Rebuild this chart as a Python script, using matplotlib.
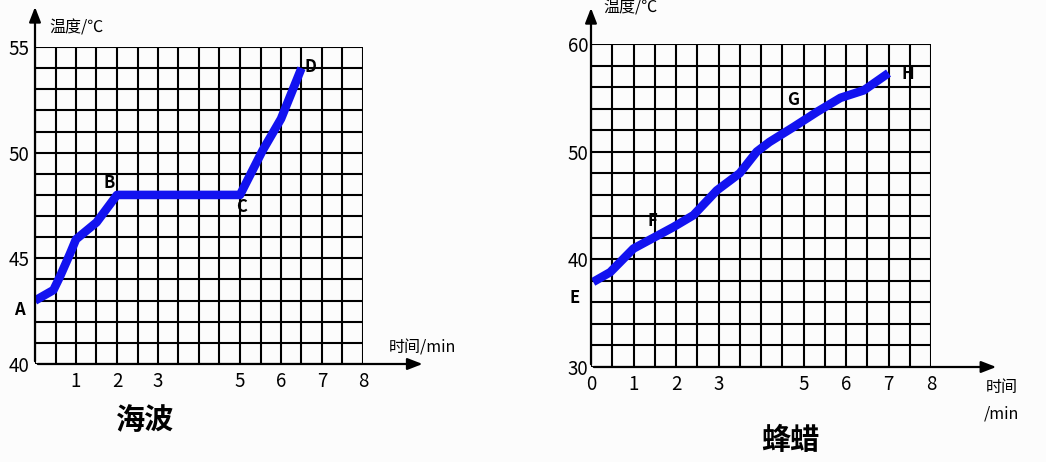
import matplotlib.pyplot as plt
import numpy as np

plt.rcParams['font.family'] = ['Noto Sans CJK SC', 'DejaVu Sans']

# 海波 (hypo) heating curve
hypo_t = [0, 0.45, 0.6, 0.85, 1.0, 1.25, 1.5, 2.0, 5.0, 5.55, 6.0, 6.5]
hypo_T = [43.0, 43.5, 44.1, 45.2, 45.9, 46.3, 46.7, 48.0, 48.0, 50.1, 51.6, 54.0]
hypo_labels = ['A', 'B', 'C', 'D']
hypo_label_pts = [(0, 43.0), (2.0, 48.0), (5.0, 48.0), (6.5, 54.0)]

# 蜂蜡 (beeswax) heating curve
wax_t = [0.05, 0.45, 1.0, 1.47, 1.94, 2.41, 2.96, 3.5, 3.9, 4.2, 4.77, 5.32, 5.87, 6.42, 7.0]
wax_T = [37.9, 38.8, 41.0, 42.0, 43.0, 44.1, 46.4, 48.0, 50.0, 50.9, 52.3, 53.7, 55.0, 55.7, 57.3]
wax_labels = ['E', 'F', 'G', 'H']

hypo_xticks = [1, 2, 3, 5, 6, 7, 8]
wax_xticks = [0, 1, 2, 3, 5, 6, 7, 8]

W, H = 1046, 462
fig = plt.figure(figsize=(W / 100, H / 100), dpi=100)
fig.patch.set_facecolor('#fcfcfc')


def px_axes(x0, y0, x1, y1):
    return fig.add_axes([x0 / W, 1 - y1 / H, (x1 - x0) / W, (y1 - y0) / H])


def draw_grid(ax, ymin, ymax, ystep):
    for x in np.arange(0, 8.01, 0.5):
        ax.plot([x, x], [ymin, ymax], color='black', lw=1.5, zorder=1)
    for y in np.arange(ymin, ymax + 0.01, ystep):
        ax.plot([0, 8], [y, y], color='black', lw=1.5, zorder=1)
    ax.set_xlim(0, 8)
    ax.set_ylim(ymin, ymax)
    for s in ax.spines.values():
        s.set_visible(False)
    ax.set_facecolor('none')
    ax.tick_params(length=0, labelsize=13.5)


line_kw = dict(color='#1212f0', lw=6.2, solid_capstyle='butt', solid_joinstyle='round', zorder=3)
arrow_kw = dict(arrowstyle='-|>,head_length=0.9,head_width=0.35', color='black', lw=1.6)
lab_kw = dict(fontsize=12, fontweight='bold', ha='center', va='center')

# left chart
ax1 = px_axes(35, 47, 363, 364)
draw_grid(ax1, 40, 55, 1)
ax1.plot(hypo_t, hypo_T, **line_kw)
ax1.set_xticks(hypo_xticks)
ax1.set_xticklabels([str(v) for v in hypo_xticks])
ax1.set_yticks([40, 45, 50, 55])
ax1.set_yticklabels(['40', '45', '50', '55'])
ax1.tick_params(axis='x', pad=5)
ax1.tick_params(axis='y', pad=4)
ax1.annotate('', xy=(0, 1.135), xytext=(0, 0), xycoords='axes fraction', arrowprops=arrow_kw)
ax1.annotate('', xy=(1.19, 0), xytext=(0, 0), xycoords='axes fraction', arrowprops=arrow_kw)
ax1.text(0.045, 1.06, '温度/℃', transform=ax1.transAxes, fontsize=11.5, ha='left', va='center')
ax1.text(1.08, 0.05, '时间/min', transform=ax1.transAxes, fontsize=11.5, ha='left', va='center')
offs = [(-0.38, -0.45), (-0.2, 0.55), (0.05, -0.55), (0.22, 0.05)]
for lab, (x, y), (dx, dy) in zip(hypo_labels, hypo_label_pts, offs):
    ax1.text(x + dx, y + dy, lab, **lab_kw)
fig.text(145 / W, 1 - 420 / H, '海波', fontsize=21, fontweight='bold', ha='center', va='center')

# right chart
ax2 = px_axes(591, 44, 931, 367)
draw_grid(ax2, 30, 60, 2)
ax2.plot(wax_t, wax_T, **line_kw)
ax2.set_xticks(wax_xticks)
ax2.set_xticklabels([str(v) for v in wax_xticks])
ax2.set_yticks([30, 40, 50, 60])
ax2.set_yticklabels(['30', '40', '50', '60'])
ax2.tick_params(axis='x', pad=5)
ax2.tick_params(axis='y', pad=2)
ax2.annotate('', xy=(0, 1.12), xytext=(0, 0), xycoords='axes fraction', arrowprops=arrow_kw)
ax2.annotate('', xy=(1.2, 0), xytext=(0, 0), xycoords='axes fraction', arrowprops=arrow_kw)
ax2.text(0.035, 1.11, '温度/℃', transform=ax2.transAxes, fontsize=11.5, ha='left', va='center')
ax2.text(1.16, -0.065, '时间', transform=ax2.transAxes, fontsize=11.5, ha='left', va='center')
ax2.text(1.155, -0.145, '/min', transform=ax2.transAxes, fontsize=11.5, ha='left', va='center')
wax_label_pts = [(-0.38, 36.4), (1.45, 43.6), (4.75, 54.8), (7.45, 57.2)]
for lab, (x, y) in zip(wax_labels, wax_label_pts):
    ax2.text(x, y, lab, **lab_kw)
fig.text(790 / W, 1 - 440 / H, '蜂蜡', fontsize=21, fontweight='bold', ha='center', va='center')

fig.savefig('out.png', dpi=100, facecolor=fig.get_facecolor())
